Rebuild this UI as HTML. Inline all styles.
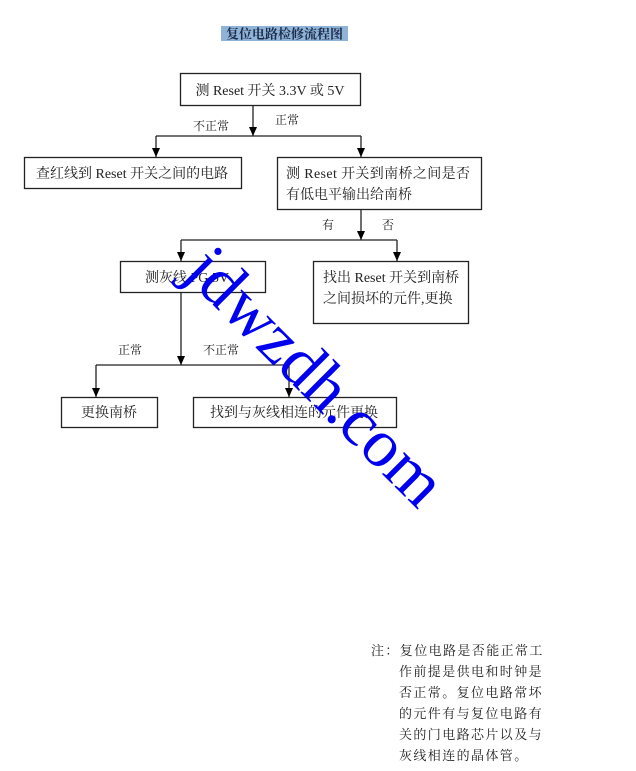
<!DOCTYPE html>
<html><head><meta charset="utf-8"><style>
html,body{margin:0;padding:0;background:#fff;}
svg{display:block;}
text{font-family:"Liberation Serif","Noto Serif CJK SC","Noto Sans CJK SC",serif;fill:#222;}
</style></head><body>
<svg width="636" height="771" viewBox="0 0 636 771" xmlns="http://www.w3.org/2000/svg">
<rect x="221" y="26" width="127" height="15" fill="#8fb3d6"/>
<text x="284.5" y="38.5" font-size="13" font-weight="bold" text-anchor="middle" style="fill:#1b2a4a">复位电路检修流程图</text>
<g fill="none" stroke="#222" stroke-width="1.3">
<rect x="180.5" y="73.5" width="180" height="32"/>
<rect x="24.5" y="157.5" width="217" height="31"/>
<rect x="277.5" y="157.5" width="204" height="52"/>
<rect x="120.5" y="261.5" width="145" height="31"/>
<rect x="313.5" y="261.5" width="155" height="62"/>
<rect x="61.5" y="397.5" width="96" height="30"/>
<rect x="193.5" y="397.5" width="203" height="30"/>
<path d="M253 105V136M156 136H361M156 136V157M361 136V157"/>
<path d="M361 210V240M181 240H397M181 240V261M397 240V261"/>
<path d="M181 293V365M96 365H289M96 365V397M289 365V397"/>
</g>
<g fill="#000">
<path d="M249 127h8l-4 9z"/><path d="M152 148h8l-4 9z"/><path d="M357 148h8l-4 9z"/>
<path d="M357 231h8l-4 9z"/><path d="M177 252h8l-4 9z"/><path d="M393 252h8l-4 9z"/>
<path d="M177 356h8l-4 9z"/><path d="M92 388h8l-4 9z"/><path d="M285 388h8l-4 9z"/>
</g>
<g font-size="14">
<text x="270" y="95" text-anchor="middle">测 Reset 开关 3.3V 或 5V</text>
<text x="36" y="178">查红线到 Reset 开关之间的电路</text>
<text x="286" y="178" textLength="184" lengthAdjust="spacing">测 Reset 开关到南桥之间是否</text>
<text x="286" y="199">有低电平输出给南桥</text>
<text x="145" y="282">测灰线 PG    5V</text>
<text x="323" y="282">找出 Reset 开关到南桥</text>
<text x="323" y="303">之间损坏的元件,更换</text>
<text x="81" y="417">更换南桥</text>
<text x="210" y="417">找到与灰线相连的元件更换</text>
</g>
<g font-size="12">
<text x="193" y="130">不正常</text>
<text x="275" y="124">正常</text>
<text x="322" y="229">有</text>
<text x="382" y="229">否</text>
<text x="118" y="354">正常</text>
<text x="203" y="354">不正常</text>
</g>
<g font-size="13" letter-spacing="1.4">
<text x="371" y="655">注：复位电路是否能正常工</text>
<text x="399" y="676">作前提是供电和时钟是</text>
<text x="399" y="697">否正常。复位电路常坏</text>
<text x="399" y="718">的元件有与复位电路有</text>
<text x="399" y="739">关的门电路芯片以及与</text>
<text x="399" y="760">灰线相连的晶体管。</text>
</g>
<text x="0" y="0" font-size="68" transform="translate(182,274) rotate(45)" style="fill:#0000ee">jdwzdh.com</text>
</svg>
</body></html>
